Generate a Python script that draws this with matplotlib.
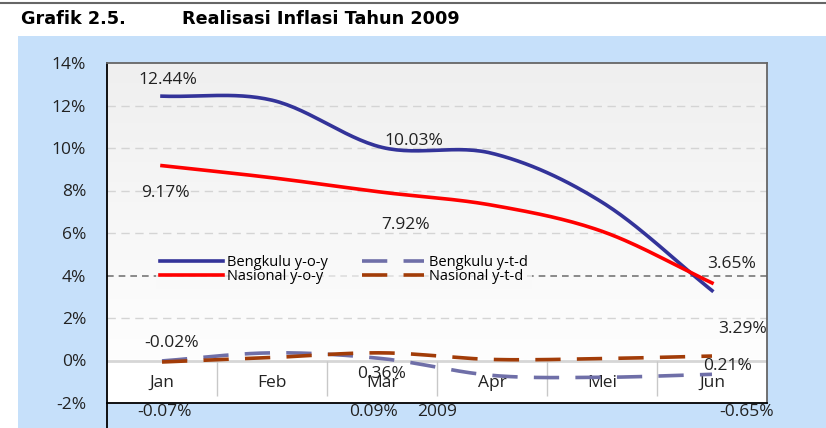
import numpy as np
import matplotlib
matplotlib.use('Agg')
import matplotlib.pyplot as plt
from matplotlib.patches import Rectangle
from matplotlib.lines import Line2D
from matplotlib.colors import LinearSegmentedColormap

plt.rcParams['font.family'] = ['Open Sans', 'DejaVu Sans']

months = ['Jan', 'Feb', 'Mar', 'Apr', 'Mei', 'Jun']
bengkulu_yoy = [12.44, 12.25, 10.03, 9.75, 7.45, 3.29]
nasional_yoy = [9.17, 8.60, 7.92, 7.31, 6.08, 3.65]
bengkulu_ytd = [-0.02, 0.36, 0.09, -0.70, -0.79, -0.65]
nasional_ytd = [-0.07, 0.14, 0.36, 0.05, 0.09, 0.21]
yticks = [-2, 0, 2, 4, 6, 8, 10, 12, 14]

# labels shown on the chart (text, x, y)
labels = [
    ('12.44%', 0.055, 13.2), ('9.17%', 0.03, 7.88),
    ('10.03%', 2.29, 10.33), ('7.92%', 2.21, 6.38),
    ('3.65%', 5.18, 4.54), ('3.29%', 5.28, 1.48),
    ('-0.02%', 0.09, 0.82), ('-0.07%', 0.02, -2.42),
    ('0.36%', 2.0, -0.64), ('0.09%', 1.92, -2.42),
    ('0.21%', 5.14, -0.26), ('-0.65%', 5.31, -2.42),
]


def smooth(y, n=30):
    # catmull-rom curve through the points, like excel's smoothed line
    p = np.array(y, dtype=float)
    m = np.gradient(p)
    xs, ys = [], []
    for i in range(len(p) - 1):
        t = np.linspace(0, 1, n, endpoint=(i == len(p) - 2))
        h00 = 2 * t ** 3 - 3 * t ** 2 + 1
        h10 = t ** 3 - 2 * t ** 2 + t
        h01 = -2 * t ** 3 + 3 * t ** 2
        h11 = t ** 3 - t ** 2
        xs.append(i + t)
        ys.append(h00 * p[i] + h10 * m[i] + h01 * p[i + 1] + h11 * m[i + 1])
    return np.concatenate(xs), np.concatenate(ys)


fig = plt.figure(figsize=(8.26, 4.28), dpi=100)
fig.patches.append(Rectangle((18 / 826, 0), 1, 1 - 36 / 428, transform=fig.transFigure,
                             facecolor='#c6e0fa', edgecolor='none', zorder=-10))
fig.lines.append(Line2D([0, 1], [1 - 3 / 428] * 2, transform=fig.transFigure, color='#666666', lw=1.5))
fig.text(21 / 826, 1 - 24 / 428, 'Grafik 2.5.', family='DejaVu Sans', weight='bold', fontsize=12.7)
fig.text(182 / 826, 1 - 24 / 428, 'Realisasi Inflasi Tahun 2009', family='DejaVu Sans', weight='bold', fontsize=12.7)

ax = fig.add_axes([107 / 826, 25 / 428, 660 / 826, 340 / 428])
n = len(months)
ax.set_xlim(-0.5, n - 0.5)
ax.set_ylim(-2, 14)

grad = LinearSegmentedColormap.from_list('bg', ['#fefefe', '#efefef'])
ax.imshow(np.linspace(0, 1, 100).reshape(-1, 1), extent=[-0.5, n - 0.5, 0, 14], origin='lower',
          cmap=grad, aspect='auto', zorder=0)
ax.axhspan(-2, 0, color='white', zorder=0)

for v in yticks[2:-1]:
    if v == 4:
        ax.axhline(v, color='#777777', lw=1.2, ls=(0, (4, 3)), zorder=1)
    else:
        ax.axhline(v, color='#d4d4d4', lw=1, ls=(0, (6, 4)), zorder=1)
ax.axhline(0, color='#d6d6d6', lw=2, zorder=1)
ax.vlines(np.arange(n - 1) + 0.5, -1.67, 0, color='#c8c8c8', lw=1, zorder=1)

x = np.arange(n)
for i, m in enumerate(months):
    ax.text(x[i], -1.06, m, ha='center', va='center', fontsize=12.5, color='#222222')

ax.plot(*smooth(bengkulu_yoy), color='#333399', lw=2.6, label='Bengkulu y-o-y', zorder=4)
ax.plot(*smooth(nasional_yoy), color='#ff0000', lw=2.6, label='Nasional y-o-y', zorder=4)
ax.plot(*smooth(bengkulu_ytd), color='#6f6fa8', lw=2.6, dashes=(7, 4.5), label='Bengkulu y-t-d', zorder=3)
ax.plot(*smooth(nasional_ytd), color='#a23c08', lw=2.6, dashes=(7, 4.5), label='Nasional y-t-d', zorder=3)

for t, lx, ly in labels:
    ax.text(lx, ly, t, ha='center', va='center', fontsize=12.5, color='#222222', zorder=6, clip_on=False)

ax.set_yticks(yticks)
ax.set_yticklabels([f'{v}%' for v in yticks], fontsize=12.5, color='#222222')
ax.tick_params(axis='y', length=0, pad=15)
ax.set_xticks([])
ax.set_xlabel('2009', fontsize=12.5, color='#222222', labelpad=1)

for s in ['left', 'bottom']:
    ax.spines[s].set_color('black')
    ax.spines[s].set_linewidth(1.3)
for s in ['top', 'right']:
    ax.spines[s].set_color('#666666')
    ax.spines[s].set_linewidth(1.3)
ax.plot([-0.5, -0.5], [-2, -3.2], color='black', lw=1.3, clip_on=False)

leg = ax.legend(ncol=2, loc='upper left', bbox_to_anchor=(0.074, 0.448), fontsize=10.5,
                handlelength=4.3, handletextpad=0.3, columnspacing=2.3, labelspacing=-0.05,
                frameon=True, fancybox=False, borderpad=0.3, borderaxespad=0)
leg.get_frame().set_facecolor('#f9f9f9')
leg.get_frame().set_edgecolor('none')
leg.set_zorder(5)

fig.savefig('out.png', dpi=100)
